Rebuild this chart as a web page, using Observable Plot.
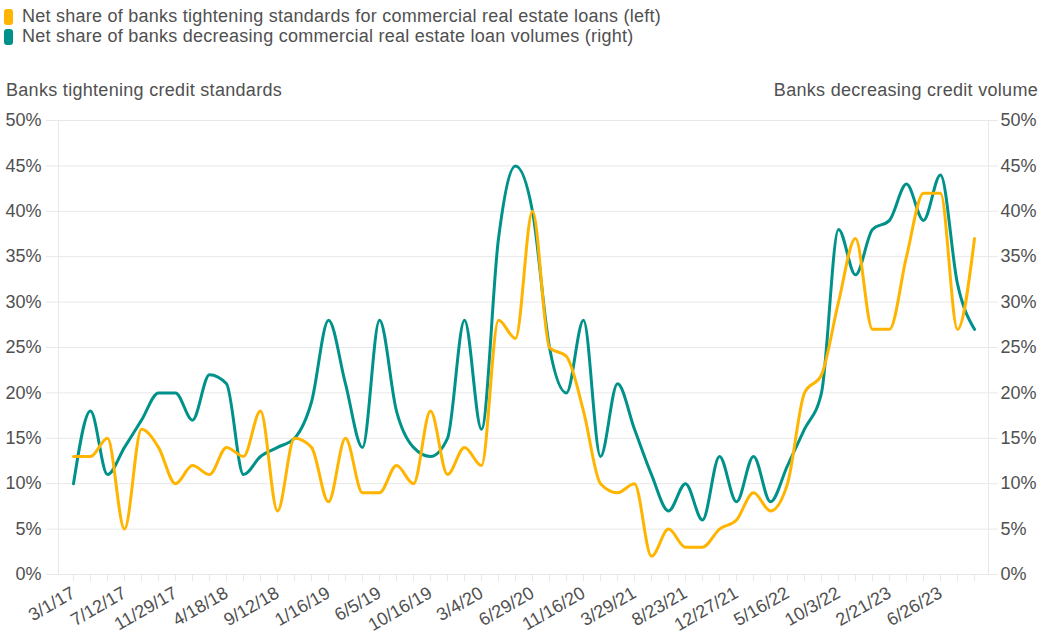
<!DOCTYPE html>
<html>
<head>
<meta charset="utf-8">
<script src="https://cdn.jsdelivr.net/npm/d3@7"></script>
<script src="https://cdn.jsdelivr.net/npm/@observablehq/plot@0.6"></script>
<style>
  body { margin: 0; background: #fff; }
  #wrap { position: relative; width: 1040px; height: 634px; font-family: "Liberation Sans", Arial, Helvetica, sans-serif; color: #505050; overflow: hidden; }
  .leg { position: absolute; left: 4px; font-size: 18px; line-height: 20px; letter-spacing: 0.25px; white-space: nowrap; }
  .sw { display: inline-block; width: 9px; height: 16px; border-radius: 3px; vertical-align: -3px; margin-right: 9px; }
  .ttl { position: absolute; top: 80px; font-size: 18px; letter-spacing: 0.3px; line-height: 21px; white-space: nowrap; }
  #chart { position: absolute; left: 0; top: 100px; }
</style>
</head>
<body>
<div id="wrap">
  <div class="leg" style="top:6px"><span class="sw" id="sw1"></span>Net share of banks tightening standards for commercial real estate loans (left)</div>
  <div class="leg" style="top:26px"><span class="sw" id="sw2"></span>Net share of banks decreasing commercial real estate loan volumes (right)</div>
  <div class="ttl" style="left:6px">Banks tightening credit standards</div>
  <div class="ttl" style="right:2px">Banks decreasing credit volume</div>
  <div id="chart"></div>
</div>
<script>
// Tick labels shown on the x axis (every third survey)
const xLabels = ["3/1/17","7/12/17","11/29/17","4/18/18","9/12/18","1/16/19","6/5/19","10/16/19","3/4/20","6/29/20","11/16/20","3/29/21","8/23/21","12/27/21","5/16/22","10/3/22","2/21/23","6/26/23"];

// Net share of banks tightening standards for CRE loans (left axis, %)
const tightening = [13,13,15,5,16,14,10,12,11,14,13,18,7,15,14,8,15,9,9,12,10,18,11,14,12,28,26,40,25,24,18,10,9,10,2,5,3,3,5,6,9,7,10,20,22,30,37,27,27,35,42,42,27,37];

// Net share of banks decreasing CRE loan volumes (right axis, %)
const decreasing = [10,18,11,14,17,20,20,17,22,21,11,13,14,15,19,28,21,14,28,18,14,13,15,28,16,37,45,40,25,20,28,13,21,16,11,7,10,6,13,8,13,8,12,16,20,38,33,38,39,43,39,44,32,27];

const yTicks = [0,5,10,15,20,25,30,35,40,45,50];

const YELLOW = "#FFB500";
const TEAL = "#00928A";
document.getElementById("sw1").style.background = YELLOW;
document.getElementById("sw2").style.background = TEAL;

const n = tightening.length;
const idx = d3.range(n);
const rows = idx.map(i => ({i, t: tightening[i], v: decreasing[i]}));
const GRID = "#e8e8e8";
const TXT = "#505050";

const chart = Plot.plot({
  width: 1040,
  height: 534,
  marginTop: 20,
  marginBottom: 60,
  marginLeft: 58,
  marginRight: 52,
  style: {fontFamily: '"Liberation Sans", Arial, Helvetica, sans-serif', fontSize: "16px", color: TXT, background: "#fff", overflow: "visible"},
  x: {type: "point", domain: idx, padding: 0.5},
  y: {domain: [0, 50]},
  marks: [
    Plot.gridY(yTicks, {stroke: GRID, strokeOpacity: 1}),
    Plot.frame({anchor: "left", stroke: GRID, strokeOpacity: 1}),
    Plot.frame({anchor: "right", stroke: GRID, strokeOpacity: 1}),
    Plot.axisY(yTicks, {anchor: "left", tickSize: 12, tickPadding: 5, tickFormat: d => d + "%", stroke: GRID, strokeOpacity: 1, fill: TXT, fontSize: 18, label: null}),
    Plot.axisY(yTicks, {anchor: "right", tickSize: 9, tickPadding: 3, tickFormat: d => d + "%", stroke: GRID, strokeOpacity: 1, fill: TXT, fontSize: 18, label: null}),
    Plot.axisX(idx, {anchor: "bottom", tickSize: 7, tickPadding: 10, tickRotate: -30, tickFormat: i => (i % 3 === 0 ? xLabels[i / 3] : ""), stroke: GRID, strokeOpacity: 1, fill: TXT, fontSize: 18, label: null}),
    Plot.lineY(rows, {x: "i", y: "v", stroke: TEAL, strokeWidth: 3, curve: "monotone-x"}),
    Plot.lineY(rows, {x: "i", y: "t", stroke: YELLOW, strokeWidth: 3, curve: "monotone-x"})
  ]
});
document.getElementById("chart").appendChild(chart);
</script>
</body>
</html>
